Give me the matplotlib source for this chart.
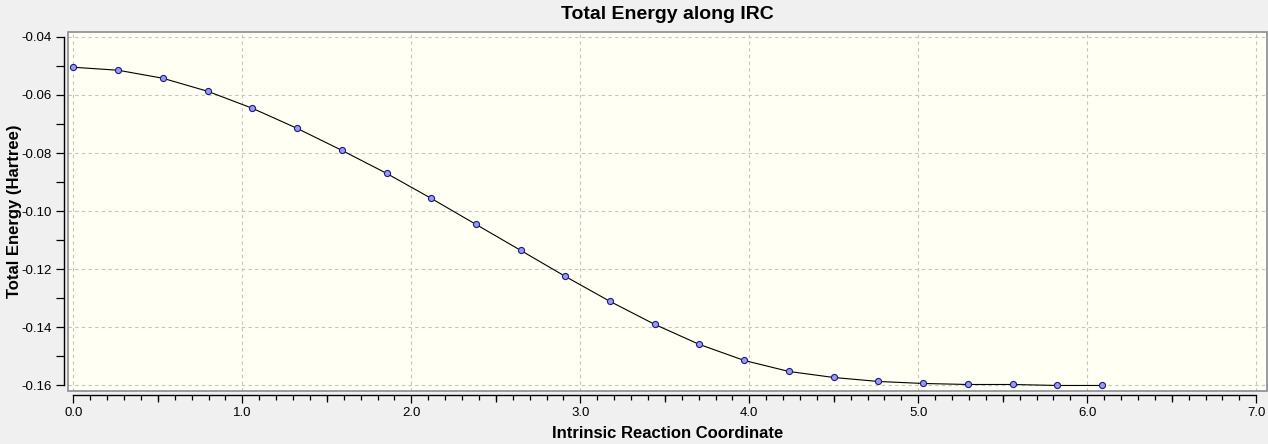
import numpy as np
import matplotlib
matplotlib.use("Agg")
import matplotlib.pyplot as plt
from matplotlib.patches import Rectangle
from matplotlib.ticker import MultipleLocator, FormatStrFormatter

# IRC points
irc = [0.000, 0.265, 0.529, 0.794, 1.059, 1.323, 1.588, 1.853, 2.117, 2.382,
       2.647, 2.911, 3.176, 3.441, 3.705, 3.970, 4.235, 4.499, 4.764, 5.029,
       5.293, 5.558, 5.823, 6.089]
energy = [-0.05045, -0.05148, -0.05424, -0.05872, -0.06459, -0.07148, -0.07907, -0.08700,
          -0.09562, -0.10459, -0.11355, -0.12252, -0.13114, -0.13907, -0.14597, -0.15148,
          -0.15528, -0.15734, -0.15872, -0.15941, -0.15976, -0.15976, -0.16010, -0.16010]
half_ticks = [0.5, 1.5, 2.5, 3.5, 4.5, 5.5, 6.5]

title = "Total Energy along IRC"
xlab = "Intrinsic Reaction Coordinate"
ylab = "Total Energy (Hartree)"

plt.rcParams['font.family'] = ['Liberation Sans', 'DejaVu Sans']

fig = plt.figure(figsize=(12.68, 4.44), dpi=100, facecolor='#F0F0F0')
ax = fig.add_axes([68/1268, 1-390.7/444, (1266.7-68)/1268, (390.7-31.7)/444])
ax.set_facecolor('#FFFFF4')

ax.plot(irc, energy, color='black', lw=0.8, marker='o', ms=4.4,
        mfc='#9A9AF0', mec='#1A1A80', mew=0.8, zorder=3)

ax.set_xlim(-0.032, 7.062)
ax.set_ylim(-0.1619, -0.0382)

ax.xaxis.set_major_locator(MultipleLocator(1.0))
ax.xaxis.set_minor_locator(MultipleLocator(0.1))
ax.yaxis.set_major_locator(MultipleLocator(0.02))
ax.yaxis.set_minor_locator(MultipleLocator(0.01))
ax.xaxis.set_major_formatter(FormatStrFormatter('%.1f'))
ax.yaxis.set_major_formatter(FormatStrFormatter('%.2f'))

ax.grid(True, which='major', color='#C4C4C4', lw=0.8, ls=(0, (3, 3)))
ax.set_axisbelow(True)

for s in ['top', 'right']:
    ax.spines[s].set_visible(False)
for s in ['left', 'bottom']:
    ax.spines[s].set_position(('outward', 3))
    ax.spines[s].set_color('black')
    ax.spines[s].set_linewidth(1.0)
ax.spines['bottom'].set_bounds(0, 7)
ax.spines['left'].set_bounds(-0.16, -0.04)

# plot frame
ax.add_patch(Rectangle((0, 0), 1, 1, transform=ax.transAxes, fill=False,
                       edgecolor='#8A8A92', lw=1.2, clip_on=False, zorder=4))

ax.tick_params(axis='both', which='both', direction='out', color='black',
               labelsize=9.5, width=0.9)
ax.tick_params(axis='x', which='major', length=6, pad=3)
ax.tick_params(axis='x', which='minor', length=3.5)
ax.tick_params(axis='y', which='major', length=6, pad=3)
ax.tick_params(axis='y', which='minor', length=6)

# medium ticks at the half units
sec = ax.secondary_xaxis('bottom')
sec.set_xticks(half_ticks)
sec.spines['bottom'].set_position(('outward', 3))
sec.spines['bottom'].set_visible(False)
sec.tick_params(axis='x', which='major', length=5, width=0.9, color='black', labelbottom=False)
sec.xaxis.set_minor_locator(plt.NullLocator())

ax.set_title(title, fontsize=14, fontweight='bold', pad=9)
ax.set_xlabel(xlab, fontsize=12, fontweight='bold', labelpad=5)
ax.set_ylabel(ylab, fontsize=12, fontweight='bold')
ax.yaxis.set_label_coords(-0.038, 0.5)

fig.savefig('out.png', dpi=100, facecolor=fig.get_facecolor())
